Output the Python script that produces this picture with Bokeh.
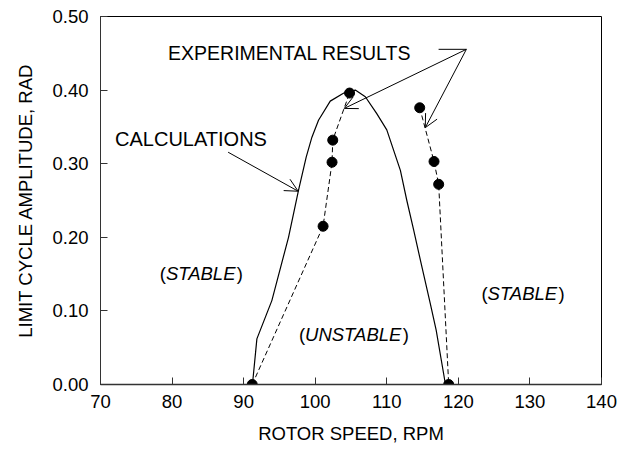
from bokeh.plotting import figure
from bokeh.models import (Range1d, FixedTicker, NumeralTickFormatter, Arrow,
                          OpenHead, NormalHead)
from bokeh.core.properties import value
from bokeh.embed import file_html
from bokeh.resources import INLINE

# ---- data ----
calc_x = [91.23, 91.85, 93.94, 96.27, 97.67, 98.74, 99.54, 100.46, 102.1,
          104.0, 105.6, 107.0, 108.6, 110.0, 111.9, 112.8, 113.75, 114.9,
          116.08, 116.9, 118.2]
calc_y = [0.0, 0.062, 0.114, 0.200, 0.264, 0.309, 0.336, 0.359, 0.385,
          0.396, 0.400, 0.391, 0.368, 0.346, 0.291, 0.250, 0.210, 0.160,
          0.110, 0.074, 0.0]

exp_left_x = [91.2, 101.1, 102.35, 102.45, 104.8]
exp_left_y = [0.0, 0.215, 0.302, 0.332, 0.396]
exp_right_x = [114.6, 116.6, 117.25, 118.65]
exp_right_y = [0.376, 0.303, 0.272, 0.0]

x_ticks = [70, 80, 90, 100, 110, 120, 130, 140]
y_ticks = [0.0, 0.1, 0.2, 0.3, 0.4, 0.5]

FONT = "Liberation Sans"
FS = "18.5px"

p = figure(width=626, height=449, output_backend="svg", toolbar_location=None,
           x_range=Range1d(70, 140), y_range=Range1d(0, 0.5),
           min_border_left=100, min_border_right=25, min_border_top=16,
           min_border_bottom=65)
p.background_fill_color = "white"
p.border_fill_color = "white"
p.outline_line_color = "black"
p.outline_line_width = 1
p.grid.visible = False

p.xaxis.ticker = FixedTicker(ticks=x_ticks)
p.yaxis.ticker = FixedTicker(ticks=y_ticks)
p.yaxis.formatter = NumeralTickFormatter(format="0.00")
for ax in (p.xaxis, p.yaxis):
    ax.major_tick_in = 7
    ax.major_tick_out = 0
    ax.minor_tick_line_color = None
    ax.major_label_text_font = FONT
    ax.major_label_text_font_size = FS
    ax.major_label_text_color = "black"
    ax.axis_label_text_font = FONT
    ax.axis_label_text_font_size = FS
    ax.axis_label_text_font_style = "normal"
    ax.axis_label_text_color = "black"
    ax.major_tick_line_color = "#333333"
    ax.axis_line_color = "#333333"
p.xaxis.axis_line_width = 1.5
p.xaxis.major_label_standoff = 10
p.yaxis.major_label_standoff = 12
p.xaxis.axis_label = "ROTOR SPEED, RPM"
p.yaxis.axis_label = "LIMIT CYCLE AMPLITUDE, RAD"
p.xaxis.axis_label_standoff = 12
p.yaxis.axis_label_standoff = 13

# calculations curve
p.line(calc_x, calc_y, line_color="black", line_width=1.2)
# experimental
p.line(exp_left_x, exp_left_y, line_color="black", line_width=1, line_dash="5 3")
p.line(exp_right_x, exp_right_y, line_color="black", line_width=1, line_dash="5 3")
p.scatter(exp_left_x + exp_right_x, exp_left_y + exp_right_y, size=10,
          fill_color="black", line_color="black")

# annotation texts
p.text(x=[79.44], y=[0.4499], text=["EXPERIMENTAL RESULTS"], text_font=value(FONT),
       text_font_size="19.5px", text_baseline="alphabetic", text_align="left",
       text_color="black")
p.text(x=[72.03], y=[0.3333], text=["CALCULATIONS"], text_font=value(FONT),
       text_font_size="20px", text_baseline="alphabetic", text_align="left",
       text_color="black")

def region_label(x, y, word, width_em):
    fs = 18.5
    po = 0.333 * fs
    p.text(x=[x], y=[y], text=["("], text_font=value(FONT), text_font_size=f"{fs}px",
           text_baseline="alphabetic", text_align="left", text_color="black")
    p.text(x=[x], y=[y], text=[word], text_font=value(FONT), text_font_size=f"{fs}px",
           text_font_style="italic", x_offset=po,
           text_baseline="alphabetic", text_align="left", text_color="black")
    p.text(x=[x], y=[y], text=[")"], text_font=value(FONT), text_font_size=f"{fs}px",
           x_offset=po + width_em * fs,
           text_baseline="alphabetic", text_align="left", text_color="black")

region_label(78.28, 0.151, "STABLE", 3.835)
region_label(123.22, 0.1238, "STABLE", 3.835)
region_label(97.72, 0.0678, "UNSTABLE", 5.279)

# arrows
p.add_layout(Arrow(end=OpenHead(size=13, line_width=1, line_color="black"),
                   x_start=87.83, y_start=0.3156, x_end=97.62, y_end=0.2626,
                   line_width=1, line_color="black"))
p.segment(x0=[117.24], y0=[0.4554], x1=[121.12], y1=[0.4554], line_color="black",
          line_width=1)
p.add_layout(Arrow(end=OpenHead(size=13, line_width=1, line_color="black"),
                   x_start=121.12, y_start=0.4554, x_end=104.06, y_end=0.3751,
                   line_width=1, line_color="black"))
p.add_layout(Arrow(end=OpenHead(size=13, line_width=1, line_color="black"),
                   x_start=121.12, y_start=0.4554, x_end=115.38, y_end=0.349,
                   line_width=1, line_color="black"))

open("out.html", "w").write(file_html(p, INLINE))
